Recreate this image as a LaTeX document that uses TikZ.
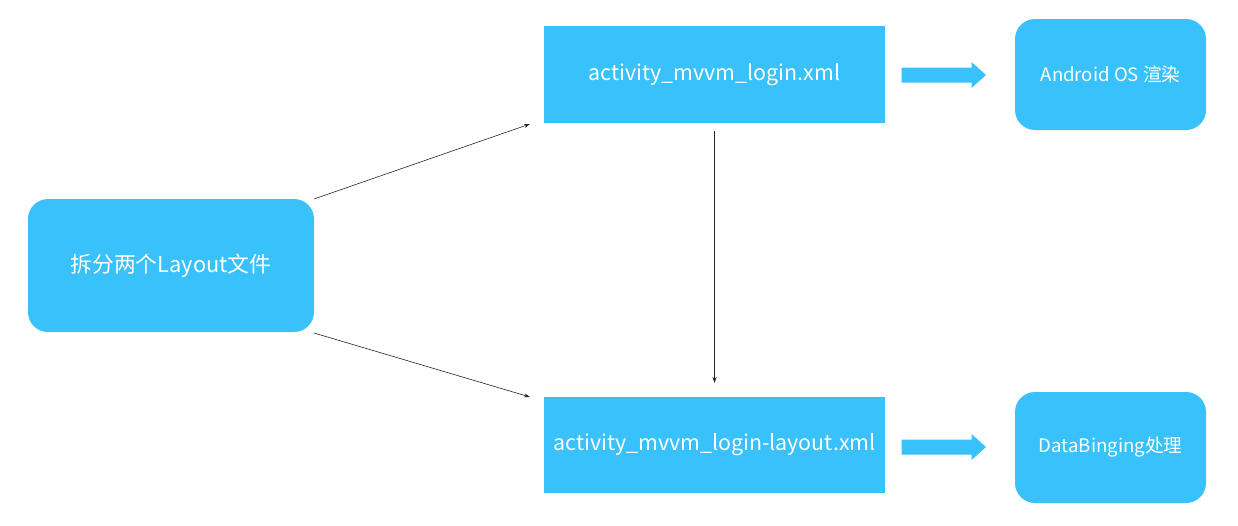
\documentclass[tikz,border=0pt]{standalone}
\usepackage{fontspec}
\newfontfamily\cjk{Noto Sans CJK SC}
\usetikzlibrary{arrows.meta,calc}
\definecolor{boxblue}{HTML}{38C1FB}
\begin{document}
\begin{tikzpicture}[x=1pt,y=-1pt,
  blk/.style={fill=boxblue,draw=none,text=white,font=\cjk\fontsize{21.4}{26}\selectfont,inner sep=0pt,anchor=center},
  rbox/.style={blk,rounded corners=20pt},
  sbox/.style={blk},
  small/.style={font=\cjk\fontsize{18.6}{22}\selectfont},
  thin/.style={draw=black!85,line width=0.6pt,-{Stealth[length=6pt,width=4pt]}},
  fat/.style={fill=boxblue,draw=none}
]
\useasboundingbox (0,0) rectangle (1238,525);
\fill[white] (0,0) rectangle (1238,525);
\node[rbox,minimum width=286pt,minimum height=133pt,font=\cjk\fontsize{21.8}{26}\selectfont] (src) at (171,265.5) {拆分两个Layout文件};
\node[sbox,minimum width=341pt,minimum height=97pt] (xml) at (714.5,74.5) {activity\_mvvm\_login.xml};
\node[sbox,minimum width=341pt,minimum height=96pt] (lay) at (714.5,445) {activity\_mvvm\_login-layout.xml};
\node[rbox,small,minimum width=191pt,minimum height=111pt] (os) at (1110.5,74.5) {Android OS 渲染};
\node[rbox,small,minimum width=191pt,minimum height=111pt] (db) at (1110.5,447.5) {DataBinging处理};
\coordinate (a1s) at (314,199);
\coordinate (a1e) at (530,124);
\coordinate (a2s) at (314,333);
\coordinate (a2e) at (530,397);
\coordinate (a3s) at (714.5,131);
\coordinate (a3e) at (714.5,383);
\draw[thin] (a1s) -- (a1e);
\draw[thin] (a2s) -- (a2e);
\draw[thin] (a3s) -- (a3e);
\coordinate (f1) at (901.5,75);
\coordinate (f2) at (901.5,447);
\foreach \c in {f1,f2}{
  \fill[fat] ($(\c)+(0,-7.5)$) -- ++(70,0) -- ++(0,-5.5) -- ++(14.5,13) -- ++(-14.5,13) -- ++(0,-5.5) -- ++(-70,0) -- cycle;
}
\end{tikzpicture}
\end{document}
